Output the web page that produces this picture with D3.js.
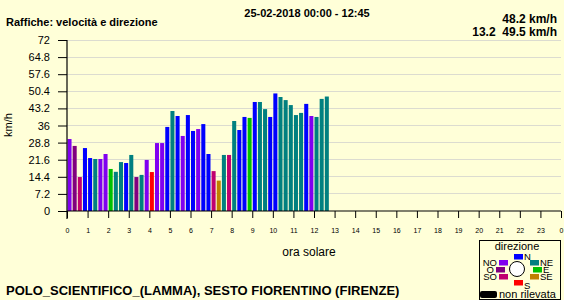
<!DOCTYPE html>
<html><head><meta charset="utf-8">
<script src="https://cdn.jsdelivr.net/npm/d3@7"></script>
<style>
html,body{margin:0;padding:0;background:#ffffd8;}
svg{display:block;font-family:"Liberation Sans",Arial,sans-serif;}
</style></head>
<body><svg id="c" width="564" height="300"></svg>
<script>
// 15-minute gust speeds (km/h), 25-02-2018 00:00 - 12:45
const speeds = [30.3,27.4,14.3,26.5,22.3,21.9,21.9,24.0,17.7,16.5,20.6,20.2,23.6,14.3,15.2,21.5,16.4,28.6,28.6,35.4,
  42.1,40.0,31.6,40.4,33.7,34.5,36.6,24.0,16.8,12.8,23.6,23.6,37.9,34.1,39.6,39.2,45.9,45.9,42.9,39.6,
  49.5,48.0,46.7,44.6,40.4,41.3,45.1,40.0,39.6,47.2,48.2];
const directions = ["NO","O","SO","N","N","NE","NO","NO","E","NE","NE","N","NE","O","NE","NO","S","NO","NO","N",
  "NE","N","NO","N","N","NO","N","N","SO","SE","NE","SO","NE","N","N","E","N","NE","NE","N",
  "N","NE","NE","NE","NE","NE","N","NO","NE","NE","NE"];
const yTickValues = [0,7.2,14.4,21.6,28.8,36,43.2,50.4,57.6,64.8,72];
const yTickLabels = ["0","7.2","14.4","21.6","28.8","36","43.2","50.4","57.6","64.8","72"];
const xTickLabels = ["0","1","2","3","4","5","6","7","8","9","10","11","12","13","14","15","16","17","18","19","20","21","22","23","0"];
const dirNames = ["N","NE","E","SE","S","SO","O","NO"];
const dirColors = ["#0000ff","#008080","#00c000","#c08000","#ff0000","#c00070","#800080","#8000f0"];

const svg = d3.select("#c");
const color = d3.scaleOrdinal().domain(dirNames).range(dirColors);
const x = d3.scaleLinear().domain([0,24]).range([67,561]);
const y = d3.scaleLinear().domain([0,72]).range([211,40]);
const step = (x(1)-x(0))/4;

// grid
svg.append("g").selectAll("line").data(yTickValues.slice(1)).join("line")
  .attr("x1",67).attr("x2",561).attr("y1",d=>y(d)).attr("y2",d=>y(d))
  .attr("stroke","#dcdcd0").attr("stroke-width",1).attr("shape-rendering","crispEdges");

// bars
svg.append("g").selectAll("rect").data(speeds).join("rect")
  .attr("x",(d,i)=>x(i/4)+0.5).attr("width",step-1.1)
  .attr("y",d=>y(d)).attr("height",d=>y(0)-y(d))
  .attr("fill",(d,i)=>color(directions[i]));

// y axis
const yAxis = d3.axisLeft(y).tickValues(yTickValues).tickFormat((d,i)=>yTickLabels[i]).tickSize(9).tickPadding(8);
const gy = svg.append("g").attr("transform","translate(67,0)").call(yAxis);
gy.select(".domain").remove();
gy.selectAll("text").attr("font-size",11).attr("fill","#000").attr("font-family","Liberation Sans, Arial, sans-serif");
gy.selectAll("line").attr("stroke","#000");
svg.append("line").attr("x1",67).attr("x2",67).attr("y1",40).attr("y2",219).attr("stroke","#000").attr("stroke-width",1.2);

// x axis
const xAxis = d3.axisBottom(x).tickValues(d3.range(0,25)).tickFormat((d,i)=>xTickLabels[i]).tickSize(7).tickPadding(10);
const gx = svg.append("g").attr("transform","translate(0,211)").call(xAxis);
gx.select(".domain").remove();
gx.selectAll("text").attr("font-size",7).attr("fill","#000").attr("font-family","Liberation Sans, Arial, sans-serif");
gx.selectAll("line").attr("stroke","#000");
svg.append("line").attr("x1",67).attr("x2",561).attr("y1",211).attr("y2",211).attr("stroke","#000").attr("stroke-width",1.2);

// titles
svg.append("text").attr("x",6).attr("y",26).attr("font-size",11).attr("font-weight","bold").text("Raffiche: velocità e direzione");
svg.append("text").attr("x",307).attr("y",17).attr("text-anchor","middle").attr("font-size",11).attr("font-weight","bold").text("25-02-2018 00:00 - 12:45");
svg.append("text").attr("x",557).attr("y",23).attr("text-anchor","end").attr("font-size",12).attr("font-weight","bold").text("48.2 km/h");
svg.append("text").attr("x",557).attr("y",36).attr("text-anchor","end").attr("font-size",12).attr("font-weight","bold").attr("xml:space","preserve").text("13.2  49.5 km/h");
svg.append("text").attr("transform","translate(12,125) rotate(-90)").attr("text-anchor","middle").attr("font-size",11).text("km/h");
svg.append("text").attr("x",309).attr("y",256).attr("text-anchor","middle").attr("font-size",12).text("ora solare");
svg.append("text").attr("x",6).attr("y",295).attr("font-size",13).attr("font-weight","bold").text("POLO_SCIENTIFICO_(LAMMA), SESTO FIORENTINO (FIRENZE)");

// legend
const lg = svg.append("g");
lg.append("rect").attr("x",479.5).attr("y",240.5).attr("width",81).attr("height",59).attr("fill","none").attr("stroke","#000");
lg.append("text").attr("x",517).attr("y",250).attr("text-anchor","middle").attr("font-size",11).text("direzione");
lg.append("circle").attr("cx",517).attr("cy",269).attr("r",7.5).attr("fill","#fff").attr("stroke","#000");
const legendItems = [
  {d:"N", sx:514, sy:254, lx:524, ly:260, anchor:"start"},
  {d:"NE",sx:530, sy:260, lx:540, ly:266, anchor:"start"},
  {d:"E", sx:533, sy:267, lx:543, ly:273, anchor:"start"},
  {d:"SE",sx:530, sy:274, lx:540, ly:280, anchor:"start"},
  {d:"S", sx:514, sy:280, lx:524, ly:289, anchor:"start"},
  {d:"SO",sx:499, sy:274, lx:497, ly:280, anchor:"end"},
  {d:"O", sx:496, sy:267, lx:494, ly:273, anchor:"end"},
  {d:"NO",sx:499, sy:260, lx:497, ly:266, anchor:"end"}
];
lg.selectAll("rect.sw").data(legendItems).join("rect").attr("class","sw")
  .attr("x",d=>d.sx).attr("y",d=>d.sy).attr("width",9).attr("height",5.5).attr("fill",d=>color(d.d));
lg.selectAll("text.lb").data(legendItems).join("text").attr("class","lb")
  .attr("x",d=>d.lx).attr("y",d=>d.ly).attr("text-anchor",d=>d.anchor).attr("font-size",9.5).text(d=>d.d);
lg.append("rect").attr("x",480).attr("y",291).attr("width",17).attr("height",7).attr("rx",2).attr("fill","#000");
lg.append("text").attr("x",499).attr("y",298).attr("font-size",11).text("non rilevata");
</script></body></html>
